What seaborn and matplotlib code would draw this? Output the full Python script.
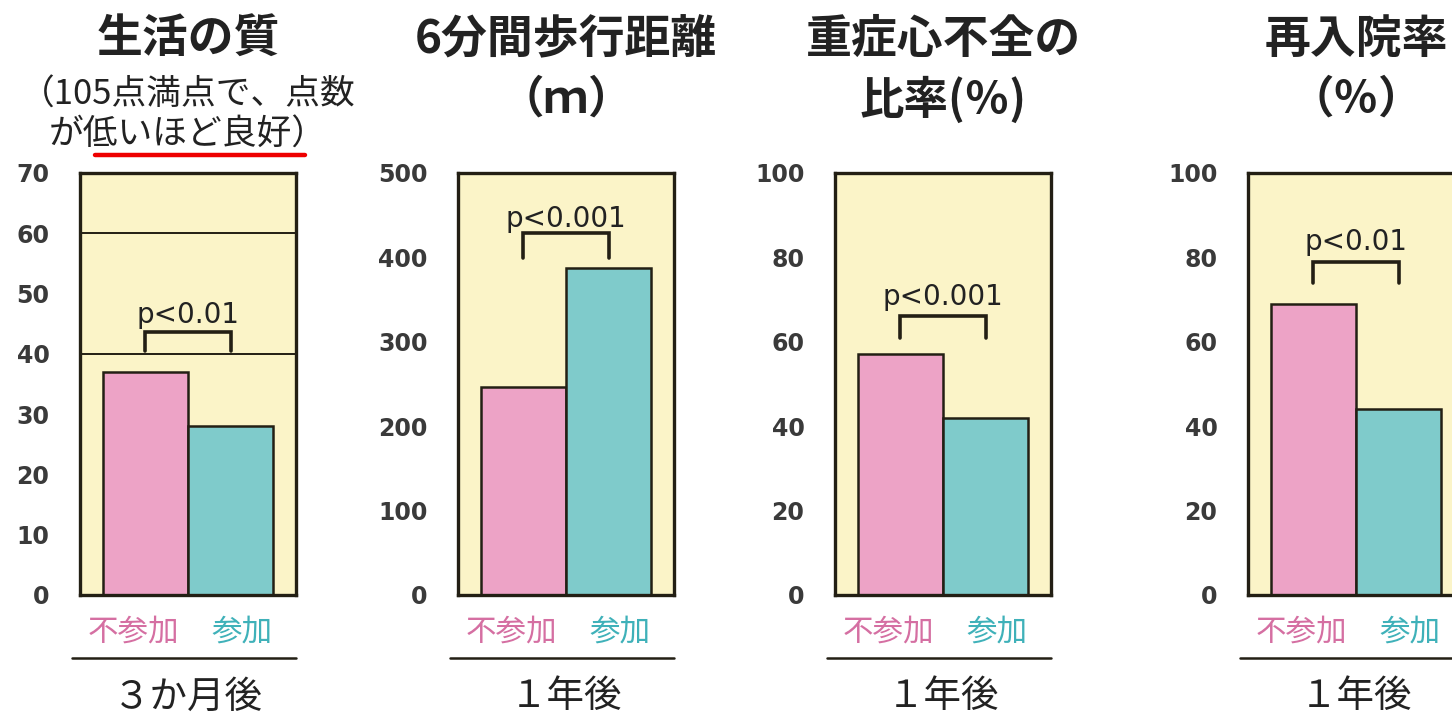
import matplotlib
matplotlib.use("Agg")
import matplotlib.pyplot as plt
import seaborn as sns
import pandas as pd

# data
groups = ["不参加", "参加"]
qol = [37, 28]
walk = [246, 387]
severe = [57, 42]
readmit = [69, 44]

titles = ["生活の質", "6分間歩行距離", "重症心不全の", "再入院率"]
subtitles = [["（105点満点で、点数", "が低いほど良好）"], ["（ｍ）"], ["比率(％)"], ["（％）"]]
periods = ["３か月後", "１年後", "１年後", "１年後"]
pvals = ["p<0.01", "p<0.001", "p<0.001", "p<0.01"]
ymax = [70, 500, 100, 100]
ystep = [10, 100, 20, 20]

PINK = "#EDA3C6"
TEAL = "#7FCBCB"
PINK_TXT = "#D56FA2"
TEAL_TXT = "#3FB1B9"
BG = "#FBF4C8"
DARK = "#231f14"

sns.set_theme(style="white")
plt.rcParams["font.family"] = ["Noto Sans CJK JP", "DejaVu Sans"]

W, H = 1452, 717
fig = plt.figure(figsize=(W / 100, H / 100), dpi=100)

def fx(px):
    return px / W

def fy(py):
    return 1 - py / H

# panel layout in pixels: axes left edge, bracket (bottom, top, text baseline) in data units
lefts = [80, 458, 835, 1248]
brackets = [(40.5, 43.6, 45.1), (399, 429, 436), (61, 66, 68.7), (74, 79, 81.8)]
ax_w, ax_top, ax_bot = 216, 173, 595

for i, vals in enumerate([qol, walk, severe, readmit]):
    ax = fig.add_axes([fx(lefts[i]), fy(ax_bot), fx(ax_w), (ax_bot - ax_top) / H])
    df = pd.DataFrame({"group": groups, "value": vals})
    sns.barplot(data=df, x="group", y="value", hue="group", palette=[PINK, TEAL],
                saturation=1, width=1.0, edgecolor=DARK, linewidth=1.8, legend=False, ax=ax)
    ax.set_facecolor(BG)
    ax.set_xlim(-0.77, 1.77)
    ax.set_ylim(0, ymax[i])
    ax.set_yticks(range(0, ymax[i] + 1, ystep[i]))
    ax.set_yticklabels([str(t) for t in range(0, ymax[i] + 1, ystep[i])],
                       fontsize=17, fontweight="bold", color="#3a3a3a", family="DejaVu Sans")
    ax.tick_params(axis="y", length=0, pad=22)
    ax.set_xticks([])
    ax.set_xlabel("")
    ax.set_ylabel("")
    for s in ax.spines.values():
        s.set_visible(True)
        s.set_color(DARK)
        s.set_linewidth(2.4)
    if i == 0:
        ax.axhline(40, color=DARK, lw=1.4, zorder=0.5)
        ax.axhline(60, color=DARK, lw=1.4, zorder=0.5)

    b0, b1, bt = brackets[i]
    ax.plot([0, 0, 1, 1], [b0, b1, b1, b0], color=DARK, lw=2.6, solid_joinstyle="miter")
    ax.text(0.5, bt, pvals[i], ha="center", va="baseline", fontsize=20,
            color="#222222", family="DejaVu Sans")

    # group labels under bars
    tr = ax.get_xaxis_transform()
    ax.text(-0.14, -0.088, groups[0], transform=tr, ha="center", va="center",
            fontsize=22, color=PINK_TXT, clip_on=False)
    ax.text(1.13, -0.088, groups[1], transform=tr, ha="center", va="center",
            fontsize=22, color=TEAL_TXT, clip_on=False)
    ax.plot([-0.037, 1.0], [-0.149, -0.149], transform=ax.transAxes, color=DARK,
            lw=1.8, clip_on=False)

    cx = fx(lefts[i] + ax_w / 2)
    fig.text(cx, fy(697), periods[i], ha="center", va="center", fontsize=27, color="#222222")

    # titles
    fig.text(cx, fy(40), titles[i], ha="center", va="center", fontsize=33,
             fontweight="bold", color="#222222")
    if i == 0:
        fig.text(cx, fy(95), subtitles[i][0], ha="center", va="center", fontsize=25, color="#222222")
        fig.text(cx, fy(135), subtitles[i][1], ha="center", va="center", fontsize=25, color="#222222")
    else:
        fig.text(cx, fy(100), subtitles[i][0], ha="center", va="center", fontsize=32,
                 fontweight="bold", color="#222222")

# red underline under 低いほど良好
fig.add_artist(plt.Line2D([fx(95), fx(305)], [fy(155), fy(155)], color="#ee0000", lw=3.2))

fig.savefig("out.png", dpi=100, facecolor="white")
